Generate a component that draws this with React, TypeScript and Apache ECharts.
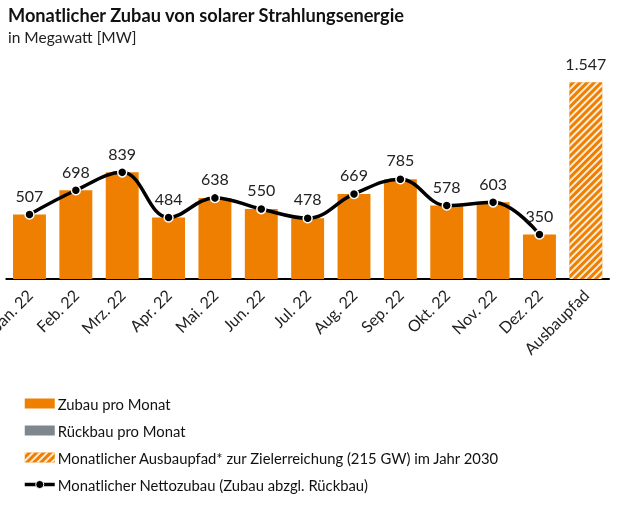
import React, { useEffect, useRef } from "react";
import * as echarts from "echarts";

const categories = ["Jan. 22", "Feb. 22", "Mrz. 22", "Apr. 22", "Mai. 22", "Jun. 22", "Jul. 22", "Aug. 22", "Sep. 22", "Okt. 22", "Nov. 22", "Dez. 22", "Ausbaupfad"];
const zubau = [507, 698, 839, 484, 638, 550, 478, 669, 785, 578, 603, 350];
const rueckbau = [0, 0, 0, 0, 0, 0, 0, 0, 0, 0, 0, 0];
const netto = [507, 698, 839, 484, 638, 550, 478, 669, 785, 578, 603, 350];
const ausbaupfad = 1547;

const ORANGE = "#EE7F00";
const GRAY = "#7D878D";
const FONT = "Lato, 'Open Sans', sans-serif";

function fmt(v: number): string {
  return String(v).replace(/\B(?=(\d{3})+(?!\d))/g, ".");
}

export default function App() {
  const ref = useRef<HTMLDivElement>(null);
  useEffect(() => {
    if (!ref.current) return;
    const chart = echarts.init(ref.current, undefined, { renderer: "svg" });
    const n = categories.length;
    const pad = (arr: number[]) => [...arr, ...Array(n - arr.length).fill("-")];
    chart.setOption({
      animation: false,
      textStyle: { fontFamily: FONT },
      title: {
        text: "Monatlicher Zubau von solarer Strahlungsenergie",
        subtext: "in Megawatt [MW]",
        left: 3,
        top: 1,
        itemGap: 5,
        textStyle: { fontFamily: FONT, fontWeight: "bold", fontSize: 18.2, color: "#111" },
        subtextStyle: { fontFamily: FONT, fontSize: 15.5, color: "#222" },
      },
      grid: { left: 6.3, right: 28, top: 75.6, bottom: 227, containLabel: false, outerBoundsMode: "none" },
      xAxis: {
        type: "category",
        data: categories,
        axisLine: { lineStyle: { color: "#000", width: 2 } },
        axisTick: { show: false },
        axisLabel: { rotate: 45, fontSize: 16, color: "#222", margin: 13, interval: 0, fontFamily: FONT },
      },
      yAxis: { type: "value", min: 0, max: 1600, show: false, splitLine: { show: false } },
      legend: {
        orient: "vertical",
        left: 23,
        top: 396,
        padding: 0,
        itemWidth: 30,
        itemHeight: 10,
        itemGap: 12,
        textStyle: { fontSize: 14.8, color: "#111", fontFamily: FONT, padding: [0, 0, 0, -2] },
        data: [
          { name: "Zubau pro Monat", icon: "rect" },
          { name: "Rückbau pro Monat", icon: "rect" },
          { name: "Monatlicher Ausbaupfad* zur Zielerreichung (215 GW) im Jahr 2030", icon: "rect" },
          {
            name: "Monatlicher Nettozubau (Zubau abzgl. Rückbau)",
            lineStyle: { width: 3.5, color: "#000" },
            itemStyle: { color: "#000", borderColor: "#fff", borderWidth: 1 },
          },
        ],
      },
      series: [
        {
          name: "Zubau pro Monat",
          type: "bar",
          stack: "s",
          barWidth: "71%",
          itemStyle: { color: ORANGE },
          data: pad(zubau),
        },
        {
          name: "Rückbau pro Monat",
          type: "bar",
          stack: "s",
          itemStyle: { color: GRAY },
          data: pad(rueckbau),
        },
        {
          name: "Monatlicher Ausbaupfad* zur Zielerreichung (215 GW) im Jahr 2030",
          type: "bar",
          stack: "s",
          itemStyle: {
            color: ORANGE,
            decal: {
              symbol: "rect",
              symbolSize: 1,
              color: "rgba(255,255,255,0.85)",
              dashArrayX: [1, 0],
              dashArrayY: [2, 3],
              rotation: -Math.PI / 4,
            },
          },
          label: {
            show: true,
            position: "top",
            distance: 11,
            fontSize: 16,
            color: "#222",
            fontFamily: FONT,
            formatter: (p: any) => fmt(p.value),
          },
          data: [...Array(n - 1).fill("-"), ausbaupfad],
        },
        {
          name: "Monatlicher Nettozubau (Zubau abzgl. Rückbau)",
          type: "line",
          smooth: 0.4,
          symbol: "circle",
          symbolSize: 9,
          lineStyle: { color: "#000", width: 3.5 },
          itemStyle: { color: "#000", borderColor: "#fff", borderWidth: 1.5 },
          label: {
            show: true,
            position: "top",
            distance: 6,
            fontSize: 16,
            color: "#222",
            fontFamily: FONT,
            formatter: (p: any) => fmt(p.value),
          },
          z: 5,
          data: pad(netto),
        },
      ],
    });
    return () => chart.dispose();
  }, []);
  return <div ref={ref} style={{ position: "fixed", left: 0, top: 0, width: 637, height: 506 }} />;
}
